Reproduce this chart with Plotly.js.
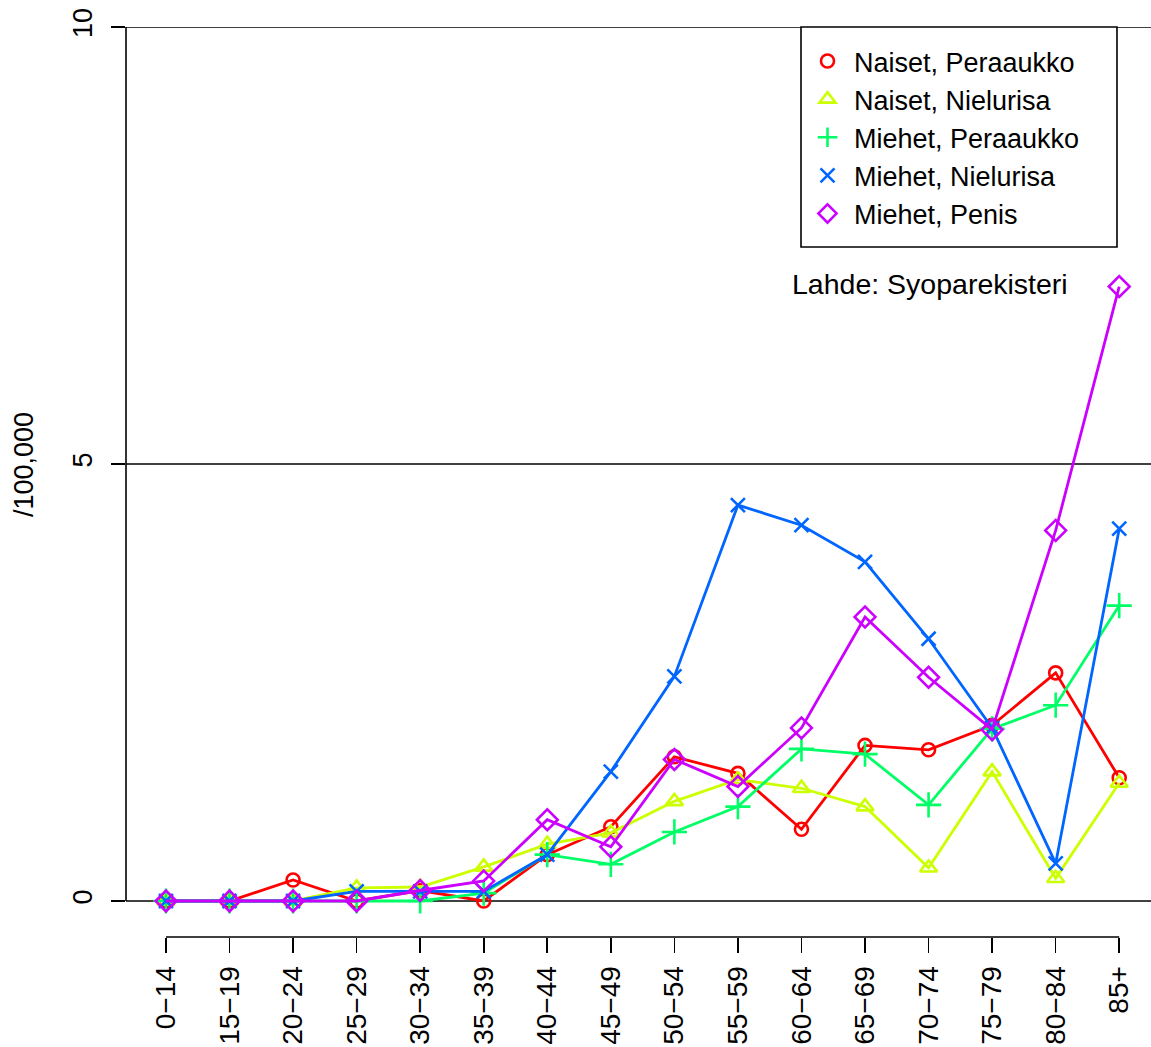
<!DOCTYPE html>
<html>
<head>
<meta charset="utf-8">
<script src="https://cdn.plot.ly/plotly-3.0.1.min.js"></script>
<style>
html, body { margin: 0; padding: 0; background: #ffffff; }
#chart { width: 1151px; height: 1047px; }
</style>
</head>
<body>
<div id="chart"></div>
<script>
const ageGroups = ["0−14", "15−19", "20−24", "25−29", "30−34", "35−39", "40−44", "45−49",
                   "50−54", "55−59", "60−64", "65−69", "70−74", "75−79", "80−84", "85+"];

const naisetPeraaukko  = [0, 0, 0.24, 0,    0.12, 0,    0.53, 0.85, 1.65, 1.46, 0.82, 1.78, 1.73, 2.01, 2.61, 1.41];
const naisetNielurisa  = [0, 0, 0,    0.15, 0.16, 0.39, 0.65, 0.78, 1.14, 1.39, 1.29, 1.08, 0.38, 1.48, 0.26, 1.35];
const miehetPeraaukko  = [0, 0, 0,    0,    0,    0.09, 0.53, 0.42, 0.79, 1.08, 1.74, 1.68, 1.10, 1.97, 2.24, 3.38];
const miehetNielurisa  = [0, 0, 0,    0.11, 0.11, 0.11, 0.53, 1.48, 2.57, 4.53, 4.30, 3.88, 3.00, 1.98, 0.43, 4.26];
const miehetPenis      = [0, 0, 0,    0,    0.12, 0.23, 0.93, 0.62, 1.62, 1.31, 1.98, 3.25, 2.56, 1.96, 4.24, 7.03];

const seriesNames = ["Naiset, Peraaukko", "Naiset, Nielurisa", "Miehet, Peraaukko", "Miehet, Nielurisa", "Miehet, Penis"];
const seriesData = [naisetPeraaukko, naisetNielurisa, miehetPeraaukko, miehetNielurisa, miehetPenis];
const seriesColors = ["#FF0000", "#CCFF00", "#00FF66", "#0066FF", "#CC00FF"];
const seriesSymbols = ["circle-open", "triangle-up-open", "cross-thin-open", "x-thin-open", "diamond-open"];
const seriesSizes = [13, 15, 18, 14, 16];

const yTicks = [0, 5, 10];
const sourceText = "Lahde: Syoparekisteri";
const yTitle = "/100,000";

const FONT = "'Liberation Sans', Arial, Helvetica, sans-serif";

// plot-area geometry (pixels) used to place layout-only items
const PL = 126, PW = 1025, PT = 27, PH = 910;
const px2x = p => (p - PL) / PW;
const py2y = p => (PT + PH - p) / PH;

const traces = [];
seriesData.forEach((vals, i) => {
  traces.push({
    type: "scatter",
    mode: "lines+markers",
    x: ageGroups,
    y: vals,
    name: seriesNames[i],
    showlegend: false,
    line: { color: seriesColors[i], width: 2.8 },
    marker: { symbol: seriesSymbols[i], size: seriesSizes[i], color: seriesColors[i],
              line: { color: seriesColors[i], width: 2.6 } },
    hoverinfo: "x+y+name"
  });
});
// legend-only entries (symbols without lines, as in the original)
seriesData.forEach((vals, i) => {
  traces.push({
    type: "scatter",
    mode: "markers",
    x: [null],
    y: [null],
    name: seriesNames[i],
    showlegend: true,
    marker: { symbol: seriesSymbols[i], size: Math.min(seriesSizes[i], 14), color: seriesColors[i],
              line: { color: seriesColors[i], width: 2.6 } },
    hoverinfo: "skip"
  });
});

const shapes = [];
yTicks.forEach(v => {
  shapes.push({ type: "line", xref: "paper", yref: "y", x0: 0, x1: 1, y0: v, y1: v,
                line: { color: "#000000", width: 1.6 }, layer: "below" });
});
// y-axis line from first to last tick
shapes.push({ type: "line", xref: "paper", yref: "y", x0: 0, x1: 0, y0: yTicks[0], y1: yTicks[yTicks.length - 1],
              line: { color: "#000000", width: 1.6 }, layer: "below" });
// x-axis line from first to last tick
shapes.push({ type: "line", xref: "x", yref: "paper", x0: 0, x1: ageGroups.length - 1, y0: 0, y1: 0,
              line: { color: "#000000", width: 1.6 }, layer: "below" });
// legend box
shapes.push({ type: "rect", xref: "paper", yref: "paper", x0: px2x(801), x1: px2x(1117), y0: py2y(247), y1: py2y(27),
              line: { color: "#000000", width: 1.6 }, fillcolor: "#ffffff", layer: "below" });

const layout = {
  width: 1151,
  height: 1047,
  margin: { l: PL, r: 0, t: PT, b: 1047 - PT - PH, pad: 0 },
  paper_bgcolor: "#ffffff",
  plot_bgcolor: "#ffffff",
  font: { family: FONT, size: 27, color: "#000000" },
  showlegend: true,
  legend: {
    x: px2x(801), xanchor: "left",
    y: py2y(37), yanchor: "top",
    borderwidth: 0,
    bgcolor: "rgba(0,0,0,0)",
    font: { family: FONT, size: 27, color: "#000000" },
    tracegroupgap: 0,
    itemwidth: 43
  },
  xaxis: {
    type: "category",
    range: [-0.629, 15.5],
    showgrid: false,
    zeroline: false,
    showline: false,
    ticks: "outside",
    ticklen: 15,
    tickwidth: 1.6,
    tickcolor: "#000000",
    tickangle: -90,
    ticklabelstandoff: 2,
    tickfont: { family: FONT, size: 28, color: "#000000" },
    fixedrange: true
  },
  yaxis: {
    range: [-0.412, 10],
    tickvals: yTicks,
    ticktext: yTicks.map(String),
    showgrid: false,
    zeroline: false,
    showline: false,
    ticks: "outside",
    ticklen: 14,
    tickwidth: 1.6,
    tickcolor: "#000000",
    tickangle: -90,
    ticklabelstandoff: 8,
    tickfont: { family: FONT, size: 27, color: "#000000" },
    fixedrange: true
  },
  shapes: shapes,
  annotations: [
    { text: sourceText, xref: "paper", yref: "paper", x: px2x(790), y: py2y(284),
      xanchor: "left", yanchor: "middle", showarrow: false,
      font: { family: FONT, size: 28.5, color: "#000000" } },
    { text: yTitle, xref: "paper", yref: "paper", x: px2x(24), y: py2y(465),
      xanchor: "center", yanchor: "middle", textangle: -90, showarrow: false,
      font: { family: FONT, size: 27, color: "#000000" } }
  ]
};

Plotly.newPlot("chart", traces, layout, { displayModeBar: false, staticPlot: true });
</script>
</body>
</html>
